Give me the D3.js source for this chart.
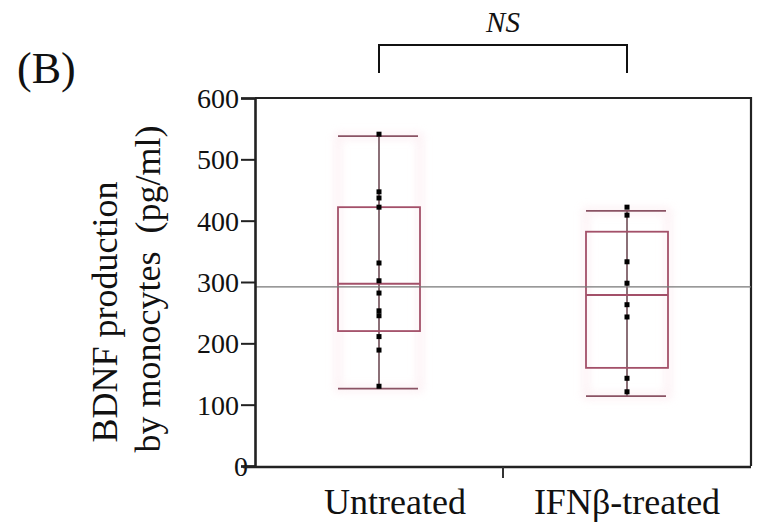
<!DOCTYPE html>
<html lang="en">
<head>
    <meta charset="UTF-8">
    <title>BDNF production by monocytes</title>
    <script src="https://d3js.org/d3.v7.min.js"></script>
    <style>
        body { margin: 0; background: #fff; }
        .axis path, .axis line { stroke: #222; }
    </style>
</head>
<body>
<svg id="chart" width="757" height="526"></svg>
<script>
    // groups and summary values (pg/ml)
    const groups = ["Untreated", "IFNβ-treated"];
    const whiskerLow = [126, 114];
    const boxLow = [220, 160];
    const medians = [297, 279];
    const boxHigh = [422, 382];
    const whiskerHigh = [538, 416];
    const untreatedPoints = [541, 447, 437, 422, 331, 302, 282, 253, 245, 211, 189, 130];
    const ifnPoints = [422, 409, 333, 298, 263, 243, 143, 121];
    const referenceLine = 292;
    const yTicks = [0, 100, 200, 300, 400, 500, 600];

    const points = [untreatedPoints, ifnPoints];
    const serif = "'Liberation Serif', 'Times New Roman', Times, 'DejaVu Serif', serif";

    const svg = d3.select("#chart");
    const plotLeft = 255, plotRight = 751, plotTop = 98, plotBottom = 466;

    const x = d3.scalePoint().domain(groups).range([plotLeft, plotRight]).padding(0.5);
    const y = d3.scaleLinear().domain([0, 600]).range([plotBottom, plotTop]);

    // soft glow used round the boxes
    const defs = svg.append("defs");
    defs.append("filter").attr("id", "glow")
        .attr("x", "-30%").attr("y", "-30%").attr("width", "160%").attr("height", "160%")
        .append("feGaussianBlur").attr("stdDeviation", 4);

    // frame: top and right border
    svg.append("path")
        .attr("d", `M${plotLeft},${plotTop}H${plotRight}V${plotBottom}`)
        .attr("fill", "none")
        .attr("stroke", "#222")
        .attr("stroke-width", 2.2);

    // boxes
    const boxW = 82;
    const box = svg.selectAll(".box")
        .data(groups)
        .enter().append("g")
        .attr("class", "box");

    // very faint pink halo
    box.append("rect")
        .attr("x", d => x(d) - boxW / 2)
        .attr("y", (d, i) => y(whiskerHigh[i]))
        .attr("width", boxW)
        .attr("height", (d, i) => y(whiskerLow[i]) - y(whiskerHigh[i]))
        .attr("fill", "none")
        .attr("stroke", "#f9dde5")
        .attr("stroke-width", 6)
        .attr("opacity", 0.5)
        .attr("filter", "url(#glow)");

    // horizontal reference line
    svg.append("line")
        .attr("x1", plotLeft).attr("x2", plotRight)
        .attr("y1", y(referenceLine)).attr("y2", y(referenceLine))
        .attr("stroke", "#777")
        .attr("stroke-width", 1.4);

    box.append("line")
        .attr("x1", d => x(d)).attr("x2", d => x(d))
        .attr("y1", (d, i) => y(whiskerHigh[i]))
        .attr("y2", (d, i) => y(whiskerLow[i]))
        .attr("stroke", "#6e4c55")
        .attr("stroke-width", 1.6);

    box.append("rect")
        .attr("x", d => x(d) - boxW / 2)
        .attr("y", (d, i) => y(boxHigh[i]))
        .attr("width", boxW)
        .attr("height", (d, i) => y(boxLow[i]) - y(boxHigh[i]))
        .attr("fill", "none")
        .attr("stroke", "#a35069")
        .attr("stroke-width", 1.8);

    box.append("line")
        .attr("x1", d => x(d) - boxW / 2).attr("x2", d => x(d) + boxW / 2)
        .attr("y1", (d, i) => y(medians[i])).attr("y2", (d, i) => y(medians[i]))
        .attr("stroke", "#a35069")
        .attr("stroke-width", 2);

    [whiskerHigh, whiskerLow].forEach(arr => {
        box.append("line")
            .attr("x1", d => x(d) - boxW / 2).attr("x2", d => x(d) + boxW / 2 - 2)
            .attr("y1", (d, i) => y(arr[i])).attr("y2", (d, i) => y(arr[i]))
            .attr("stroke", "#8a5364")
            .attr("stroke-width", 1.8);
    });

    // data points
    groups.forEach((g, i) => {
        svg.selectAll(".pt" + i)
            .data(points[i])
            .enter().append("rect")
            .attr("class", "pt" + i)
            .attr("x", x(g) - 2.5)
            .attr("y", d => y(d) - 2.5)
            .attr("width", 5)
            .attr("height", 5)
            .attr("fill", "#000");
    });

    // y axis
    const yAxis = svg.append("g")
        .attr("class", "axis")
        .attr("transform", `translate(${plotLeft},0)`)
        .call(d3.axisLeft(y).tickValues(yTicks).tickSize(14).tickPadding(2));
    yAxis.attr("font-family", null).attr("font-size", null);
    yAxis.select(".domain").attr("stroke-width", 2.6);
    yAxis.selectAll(".tick line").attr("stroke-width", 2);
    yAxis.selectAll(".tick text")
        .style("font-family", serif)
        .style("font-size", "28px")
        .attr("fill", "#111")
        .attr("dy", "0.34em")
        .attr("dx", d => d === 0 ? 9 : 0);

    // x axis line with the middle tick
    svg.append("line")
        .attr("x1", plotLeft - 12).attr("x2", plotRight)
        .attr("y1", plotBottom + 1).attr("y2", plotBottom + 1)
        .attr("stroke", "#222").attr("stroke-width", 2.6);
    const mid = (x(groups[0]) + x(groups[1])) / 2;
    svg.append("line")
        .attr("x1", mid).attr("x2", mid)
        .attr("y1", plotBottom + 1).attr("y2", plotBottom + 12)
        .attr("stroke", "#333").attr("stroke-width", 2);

    // x labels
    svg.selectAll(".xlabel")
        .data(groups)
        .enter().append("text")
        .attr("class", "xlabel")
        .attr("x", (d, i) => x(d) + (i === 0 ? 16 : 0))
        .attr("y", 514)
        .attr("text-anchor", "middle")
        .attr("fill", "#111")
        .style("font-family", serif)
        .style("font-size", "36px")
        .text(d => d);

    // significance bracket
    const bx1 = x(groups[0]), bx2 = x(groups[1]);
    svg.append("path")
        .attr("d", `M${bx1},73V45H${bx2}V73`)
        .attr("fill", "none")
        .attr("stroke", "#111")
        .attr("stroke-width", 2);
    svg.append("text")
        .attr("x", (bx1 + bx2) / 2)
        .attr("y", 32)
        .attr("text-anchor", "middle")
        .attr("fill", "#111")
        .style("font-family", serif)
        .style("font-size", "29px")
        .style("font-style", "italic")
        .text("NS");

    // panel letter
    svg.append("text")
        .attr("x", 17)
        .attr("y", 83)
        .attr("fill", "#111")
        .style("font-family", serif)
        .style("font-size", "44px")
        .text("(B)");

    // y axis title (two lines)
    const yt = svg.append("text")
        .attr("transform", "rotate(-90)")
        .attr("text-anchor", "middle")
        .attr("fill", "#111")
        .style("font-family", serif)
        .style("font-size", "36px");
    yt.append("tspan").attr("x", -312).attr("y", 117).text("BDNF production");
    yt.append("tspan").attr("x", -289).attr("y", 160).text("by monocytes\u00a0 (pg/ml)");
</script>
</body>
</html>
